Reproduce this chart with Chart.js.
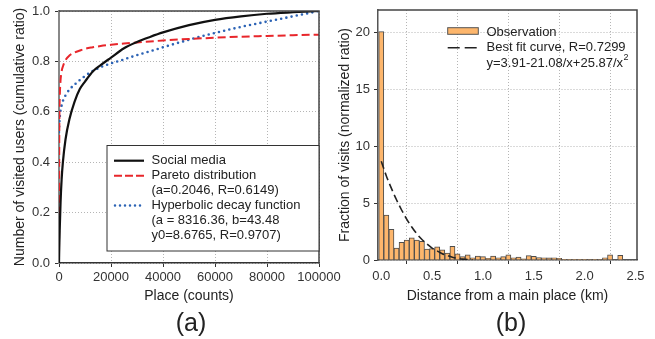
<!DOCTYPE html>
<html>
<head>
<meta charset="utf-8">
<script src="https://cdn.jsdelivr.net/npm/chart.js@4.4.0/dist/chart.umd.min.js"></script>
<style>
  body { margin: 0; background: #fff; width: 655px; height: 339px; overflow: hidden; position: relative; }
  canvas { position: absolute; top: 0; }
  #left { left: 0; }
  #right { left: 330px; }
</style>
</head>
<body>
<canvas id="left" width="350" height="339"></canvas>
<canvas id="right" width="325" height="339"></canvas>
<script>
// ---- panel (a): cumulative ratio vs place count ----
let placeCounts = [0, 100, 300, 600, 1000, 1500, 2500, 4000, 6000, 8000, 10000, 13000, 16000,
  20000, 25000, 30000, 35000, 40000, 50000, 60000, 70000, 80000, 90000, 100000];
let socialMedia = [0, 0.06, 0.14, 0.24, 0.33, 0.40, 0.49, 0.57, 0.64, 0.69, 0.72, 0.76, 0.785,
  0.815, 0.852, 0.877, 0.897, 0.915, 0.944, 0.965, 0.979, 0.989, 0.995, 1.0];
let paretoFit = [0, 0.5, 0.66, 0.725, 0.76, 0.78, 0.805, 0.823, 0.835, 0.843, 0.85, 0.856, 0.861,
  0.866, 0.871, 0.875, 0.879, 0.883, 0.889, 0.894, 0.898, 0.901, 0.904, 0.906];
let hyperbolicFit = [0.52, 0.55, 0.58, 0.605, 0.625, 0.643, 0.665, 0.688, 0.708, 0.726, 0.742, 0.762, 0.777,
  0.792, 0.808, 0.825, 0.84, 0.856, 0.886, 0.913, 0.937, 0.958, 0.979, 1.0];
let leftXTicks = [0, 20000, 40000, 60000, 80000, 100000];
let leftYTicks = [0, 0.2, 0.4, 0.6, 0.8, 1.0];
let leftLegendText = ["Social media", "Pareto distribution", "(a=0.2046, R=0.6149)",
  "Hyperbolic decay function", "(a = 8316.36, b=43.48", "y0=8.6765, R=0.9707)"];

// ---- panel (b): histogram of distance from main place ----
let distanceBins = [0, 0.05, 0.1, 0.15, 0.2, 0.25, 0.3, 0.35, 0.4, 0.45, 0.5, 0.55, 0.6, 0.65, 0.7, 0.75,
  0.8, 0.85, 0.9, 0.95, 1.0, 1.05, 1.1, 1.15, 1.2, 1.25, 1.3, 1.35, 1.4, 1.45, 1.5, 1.55,
  1.6, 1.65, 1.7, 1.75, 1.8, 1.85, 1.9, 1.95, 2.0, 2.05, 2.1, 2.15, 2.2, 2.25, 2.3, 2.35];
let observation = [20.1, 3.95, 2.7, 1.05, 1.55, 1.75, 1.95, 1.75, 1.65, 0.95, 1.0, 1.15, 0.9, 0.6, 1.2, 0.55,
  0.3, 0.45, 0.2, 0.35, 0.3, 0.15, 0.35, 0.2, 0.3, 0.45, 0.2, 0.25, 0.1, 0.38, 0.33, 0.22,
  0.2, 0.18, 0.2, 0.15, 0.06, 0.03, 0.02, 0.02, 0.02, 0.05, 0.03, 0.05, 0.2, 0.45, 0, 0.4];
let fitDistance = [0, 0.05, 0.1, 0.15, 0.2, 0.25, 0.3, 0.35, 0.4, 0.45, 0.5, 0.55, 0.6, 0.65, 0.7, 0.75, 0.8, 0.85, 0.9];
let fitValues = [8.7, 7.4, 6.3, 5.3, 4.4, 3.6, 2.9, 2.3, 1.8, 1.4, 1.05, 0.8, 0.55, 0.4, 0.25, 0.15, 0.08, 0.03, 0];
let rightXTicks = [0, 0.5, 1.0, 1.5, 2.0, 2.5];
let rightYTicks = [0, 5, 10, 15, 20];
let rightLegendText = ["Observation", "Best fit curve, R=0.7299", "y=3.91-21.08/x+25.87/x", "2"];

const FONT = '"Liberation Sans", Arial, sans-serif';
const TEXT = '#222';

function pts(xs, ys) { return xs.map((x, i) => ({ x: x, y: ys[i] })); }
function fixWidth(w) { return s => { s.width = w; s.paddingTop = 0; s.paddingBottom = 0; }; }
function fixHeight(h) { return s => { s.height = h; s.paddingLeft = 0; s.paddingRight = 0; }; }
function setTicks(arr) { return s => { s.ticks = arr.map(v => ({ value: v })); }; }

function axis(opts) {
  return Object.assign({
    type: 'linear',
    grid: { color: '#b5b5b5', lineWidth: 1, drawTicks: true, tickLength: 4, tickColor: '#333', tickWidth: 1, tickBorderDash: [] },
    border: { display: true, color: '#444', width: 1.5, dash: [1, 2] }
  }, opts);
}

// frame + panel letter
function framePlugin(id, letter, cx, top, right) {
  return {
    id: id,
    afterDraw(chart) {
      const a = chart.chartArea, c = chart.ctx;
      c.save();
      c.strokeStyle = '#444';
      c.lineWidth = 1.5;
      c.beginPath();
      c.moveTo(a.left, a.top); c.lineTo(a.right, a.top); c.lineTo(a.right, a.bottom);
      c.stroke();
      c.font = '25px ' + FONT;
      c.fillStyle = TEXT;
      c.textAlign = 'center';
      c.textBaseline = 'alphabetic';
      c.fillText(letter, cx, 330.5);
      c.restore();
    }
  };
}

const leftLegend = {
  id: 'leftLegend',
  afterDraw(chart) {
    const c = chart.ctx;
    c.save();
    c.fillStyle = '#fff';
    c.fillRect(107, 145.5, 212, 105.5);
    c.strokeStyle = '#333';
    c.lineWidth = 1;
    c.strokeRect(107, 145.5, 212, 105.5);
    // samples
    c.lineWidth = 2.2; c.strokeStyle = '#111';
    c.beginPath(); c.moveTo(114, 160.7); c.lineTo(144, 160.7); c.stroke();
    c.lineWidth = 2; c.strokeStyle = '#e8262b'; c.setLineDash([8, 3]);
    c.beginPath(); c.moveTo(114, 175.7); c.lineTo(144, 175.7); c.stroke();
    c.lineWidth = 2.5; c.strokeStyle = '#2c63b5'; c.setLineDash([0, 5]); c.lineCap = 'round';
    c.beginPath(); c.moveTo(115, 205.5); c.lineTo(144, 205.5); c.stroke();
    c.setLineDash([]);
    c.font = '13px ' + FONT;
    c.fillStyle = TEXT;
    c.textBaseline = 'middle';
    leftLegendText.forEach((t, i) => c.fillText(t, 151.5, 160.7 + i * 14.9));
    c.restore();
  }
};

const rightLegend = {
  id: 'rightLegend',
  afterDraw(chart) {
    const c = chart.ctx;
    c.save();
    c.fillStyle = '#fdb66c';
    c.fillRect(117.7, 27.7, 30.6, 6.6);
    c.strokeStyle = '#555'; c.lineWidth = 1;
    c.strokeRect(117.7, 27.7, 30.6, 6.6);
    c.strokeStyle = '#222'; c.lineWidth = 1.6; c.setLineDash([12, 5]);
    c.beginPath(); c.moveTo(117.7, 47.7); c.lineTo(147, 47.7); c.stroke();
    c.setLineDash([]);
    c.font = '13px ' + FONT;
    c.fillStyle = TEXT;
    c.textBaseline = 'middle';
    c.fillText(rightLegendText[0], 156.5, 32);
    c.fillText(rightLegendText[1], 156.5, 47.7);
    c.fillText(rightLegendText[2], 156.5, 63.3);
    const w = c.measureText(rightLegendText[2]).width;
    c.font = '9px ' + FONT;
    c.fillText(rightLegendText[3], 156.5 + w + 0.5, 58);
    c.restore();
  }
};

Chart.defaults.font.family = FONT;
Chart.defaults.color = '#333';

new Chart(document.getElementById('left').getContext('2d'), {
  type: 'line',
  data: {
    datasets: [
      { data: pts(placeCounts, socialMedia), borderColor: '#111', borderWidth: 2.2, pointRadius: 0, cubicInterpolationMode: 'monotone' },
      { data: pts(placeCounts, paretoFit), borderColor: '#e8262b', borderWidth: 2, borderDash: [8, 4], pointRadius: 0, cubicInterpolationMode: 'monotone' },
      { data: pts(placeCounts, hyperbolicFit), borderColor: '#2c63b5', borderWidth: 2.6, borderDash: [0, 5.3], borderCapStyle: 'round', pointRadius: 0, cubicInterpolationMode: 'monotone' }
    ]
  },
  options: {
    responsive: false,
    animation: false,
    devicePixelRatio: 1,
    layout: { padding: { left: 0, top: 11, right: 31, bottom: 34 } },
    plugins: { legend: { display: false }, tooltip: { enabled: false } },
    scales: {
      x: axis({
        min: 0, max: 100000,
        afterBuildTicks: setTicks(leftXTicks),
        afterFit: fixHeight(42),
        ticks: { font: { size: 13 }, padding: 3, maxRotation: 0, callback: v => String(v) },
        border: { display: true, color: '#333', width: 1.5, dash: [1, 2] },
        title: { display: true, text: 'Place (counts)', font: { size: 14 }, color: TEXT, padding: { top: 0, bottom: 0.6 } }
      }),
      y: axis({
        min: 0, max: 1,
        afterBuildTicks: setTicks(leftYTicks),
        afterFit: fixWidth(59),
        ticks: { font: { size: 13 }, padding: 5, callback: v => v.toFixed(1) },
        border: { display: true, color: '#888', width: 2, dash: [1, 2] },
        title: { display: true, text: 'Number of visited users (cumulative ratio)', font: { size: 14 }, color: TEXT, padding: { top: 11.6, bottom: 0 } }
      })
    }
  },
  plugins: [framePlugin('frameA', '(a)', 191, 11, 319), leftLegend]
});

new Chart(document.getElementById('right').getContext('2d'), {
  type: 'bar',
  data: {
    datasets: [
      { type: 'bar', data: pts(distanceBins, observation), backgroundColor: '#fdb66c', borderColor: '#4d4d4d', borderWidth: 1,
        barPercentage: 1, categoryPercentage: 1, order: 2 },
      { type: 'line', data: pts(fitDistance, fitValues), borderColor: '#222', borderWidth: 1.6, borderDash: [8, 4],
        pointRadius: 0, cubicInterpolationMode: 'monotone', order: 1 }
    ]
  },
  options: {
    responsive: false,
    animation: false,
    devicePixelRatio: 1,
    layout: { padding: { left: 0, top: 10, right: 18, bottom: 34 } },
    plugins: { legend: { display: false }, tooltip: { enabled: false } },
    scales: {
      x: axis({
        min: -0.032, max: 2.515, offset: false,
        afterBuildTicks: setTicks(rightXTicks),
        afterFit: fixHeight(45),
        ticks: { font: { size: 13 }, padding: 5, maxRotation: 0, callback: v => v.toFixed(1) },
        border: { display: true, color: '#555', width: 1.5, dash: [1, 2] },
        title: { display: true, text: 'Distance from a main place (km)', font: { size: 14 }, color: TEXT, padding: { top: 0, bottom: 0.6 } }
      }),
      y: axis({
        min: 0, max: 22,
        afterBuildTicks: setTicks(rightYTicks),
        afterFit: fixWidth(48),
        ticks: { font: { size: 13 }, padding: 4, callback: v => String(v) },
        border: { display: true, color: '#555', width: 1.5, dash: [1, 2] },
        title: { display: true, text: 'Fraction of visits (normalized ratio)', font: { size: 14 }, color: TEXT, padding: { top: 6.6, bottom: 0 } }
      })
    }
  },
  plugins: [framePlugin('frameB', '(b)', 181, 10, 307), rightLegend]
});
</script>
</body>
</html>
